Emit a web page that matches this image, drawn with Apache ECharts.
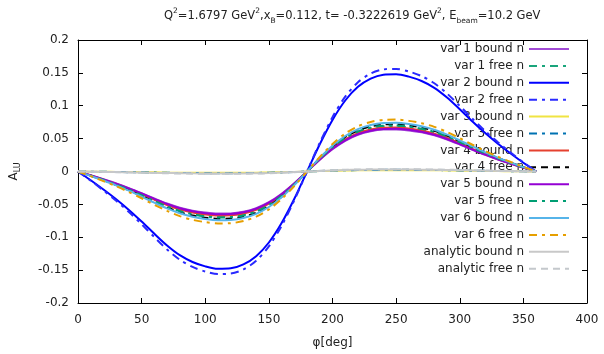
<!DOCTYPE html>
<html>
<head>
<meta charset="utf-8">
<script src="https://cdn.jsdelivr.net/npm/echarts@6/dist/echarts.min.js"></script>
<style>html,body{margin:0;padding:0;background:#fff;}#c{width:604px;height:354px;}</style>
</head>
<body>
<div id="c"></div>
<script>
const PHI = [0,10,20,30,40,50,60,70,80,90,100,110,120,130,140,150,160,170,180,190,200,210,220,230,240,250,260,270,280,290,300,310,320,330,340,350,360];
const X_TICKS = [0,50,100,150,200,250,300,350,400];
const Y_TICKS = [-0.2,-0.15,-0.1,-0.05,0,0.05,0.1,0.15,0.2];

const var1Bound = [0,-0.0058,-0.0118,-0.0182,-0.0253,-0.0330,-0.0410,-0.0486,-0.0550,-0.0595,-0.0624,-0.0640,-0.0637,-0.0611,-0.0557,-0.0467,-0.0339,-0.0179,0,0.0179,0.0339,0.0467,0.0557,0.0611,0.0637,0.0640,0.0624,0.0595,0.0550,0.0486,0.0410,0.0330,0.0253,0.0182,0.0118,0.0058,0];
const var1Free = [0,-0.0062,-0.0128,-0.0197,-0.0273,-0.0355,-0.0442,-0.0524,-0.0593,-0.0642,-0.0673,-0.0690,-0.0687,-0.0659,-0.0600,-0.0504,-0.0366,-0.0193,0,0.0193,0.0366,0.0504,0.0600,0.0659,0.0687,0.0690,0.0673,0.0642,0.0593,0.0524,0.0442,0.0355,0.0273,0.0197,0.0128,0.0062,0];
const var2Bound = [0,-0.0133,-0.0274,-0.0422,-0.0585,-0.0762,-0.0947,-0.1125,-0.1273,-0.1376,-0.1443,-0.1480,-0.1473,-0.1413,-0.1288,-0.1080,-0.0784,-0.0414,0,0.0414,0.0784,0.1080,0.1288,0.1413,0.1473,0.1480,0.1443,0.1376,0.1273,0.1125,0.0947,0.0762,0.0585,0.0422,0.0274,0.0133,0];
const var2Free = [0,-0.0140,-0.0289,-0.0445,-0.0616,-0.0803,-0.0998,-0.1186,-0.1342,-0.1451,-0.1521,-0.1560,-0.1552,-0.1490,-0.1357,-0.1139,-0.0827,-0.0437,0,0.0437,0.0827,0.1139,0.1357,0.1490,0.1552,0.1560,0.1521,0.1451,0.1342,0.1186,0.0998,0.0803,0.0616,0.0445,0.0289,0.0140,0];
const var3Bound = [0,-0.0002,-0.0004,-0.0006,-0.0008,-0.0011,-0.0013,-0.0016,-0.0018,-0.0019,-0.0020,-0.0020,-0.0020,-0.0019,-0.0018,-0.0015,-0.0011,-0.0006,0,0.0006,0.0011,0.0015,0.0018,0.0019,0.0020,0.0020,0.0020,0.0019,0.0018,0.0016,0.0013,0.0011,0.0008,0.0006,0.0004,0.0002,0];
const var3Free = [0,-0.0002,-0.0005,-0.0007,-0.0010,-0.0013,-0.0017,-0.0020,-0.0022,-0.0024,-0.0025,-0.0025,-0.0025,-0.0024,-0.0022,-0.0019,-0.0014,-0.0007,0,0.0007,0.0014,0.0019,0.0022,0.0024,0.0025,0.0025,0.0025,0.0024,0.0022,0.0020,0.0017,0.0013,0.0010,0.0007,0.0005,0.0002,0];
const var4Bound = [0,-0.0060,-0.0124,-0.0191,-0.0265,-0.0345,-0.0429,-0.0509,-0.0576,-0.0623,-0.0653,-0.0670,-0.0667,-0.0640,-0.0583,-0.0489,-0.0355,-0.0188,0,0.0188,0.0355,0.0489,0.0583,0.0640,0.0667,0.0670,0.0653,0.0623,0.0576,0.0509,0.0429,0.0345,0.0265,0.0191,0.0124,0.0060,0];
const var4Free = [0,-0.0065,-0.0133,-0.0205,-0.0284,-0.0371,-0.0461,-0.0547,-0.0619,-0.0670,-0.0702,-0.0720,-0.0716,-0.0688,-0.0626,-0.0526,-0.0382,-0.0202,0,0.0202,0.0382,0.0526,0.0626,0.0688,0.0716,0.0720,0.0702,0.0670,0.0619,0.0547,0.0461,0.0371,0.0284,0.0205,0.0133,0.0065,0];
const var5Bound = [0,-0.0059,-0.0120,-0.0185,-0.0257,-0.0335,-0.0416,-0.0494,-0.0559,-0.0605,-0.0634,-0.0650,-0.0647,-0.0621,-0.0566,-0.0475,-0.0345,-0.0182,0,0.0182,0.0345,0.0475,0.0566,0.0621,0.0647,0.0650,0.0634,0.0605,0.0559,0.0494,0.0416,0.0335,0.0257,0.0185,0.0120,0.0059,0];
const var5Free = [0,-0.0063,-0.0130,-0.0200,-0.0277,-0.0361,-0.0448,-0.0532,-0.0602,-0.0651,-0.0683,-0.0700,-0.0697,-0.0669,-0.0609,-0.0511,-0.0371,-0.0196,0,0.0196,0.0371,0.0511,0.0609,0.0669,0.0697,0.0700,0.0683,0.0651,0.0602,0.0532,0.0448,0.0361,0.0277,0.0200,0.0130,0.0063,0];
const var6Bound = [0,-0.0067,-0.0137,-0.0211,-0.0292,-0.0381,-0.0474,-0.0562,-0.0636,-0.0688,-0.0722,-0.0740,-0.0736,-0.0707,-0.0644,-0.0540,-0.0392,-0.0207,0,0.0207,0.0392,0.0540,0.0644,0.0707,0.0736,0.0740,0.0722,0.0688,0.0636,0.0562,0.0474,0.0381,0.0292,0.0211,0.0137,0.0067,0];
const var6Free = [0,-0.0071,-0.0146,-0.0225,-0.0312,-0.0407,-0.0506,-0.0600,-0.0679,-0.0735,-0.0770,-0.0790,-0.0786,-0.0754,-0.0687,-0.0577,-0.0419,-0.0221,0,0.0221,0.0419,0.0577,0.0687,0.0754,0.0786,0.0790,0.0770,0.0735,0.0679,0.0600,0.0506,0.0407,0.0312,0.0225,0.0146,0.0071,0];
const analyticBound = [0,-0.0003,-0.0006,-0.0009,-0.0012,-0.0016,-0.0020,-0.0023,-0.0026,-0.0028,-0.0029,-0.0030,-0.0030,-0.0029,-0.0027,-0.0023,-0.0016,-0.0008,0,0.0008,0.0016,0.0023,0.0027,0.0029,0.0030,0.0030,0.0029,0.0028,0.0026,0.0023,0.0020,0.0016,0.0012,0.0009,0.0006,0.0003,0];
const analyticFree = [0,-0.0003,-0.0006,-0.0010,-0.0014,-0.0019,-0.0023,-0.0027,-0.0031,-0.0033,-0.0034,-0.0035,-0.0035,-0.0034,-0.0031,-0.0027,-0.0019,-0.0010,0,0.0010,0.0019,0.0027,0.0031,0.0034,0.0035,0.0035,0.0034,0.0033,0.0031,0.0027,0.0023,0.0019,0.0014,0.0010,0.0006,0.0003,0];

const SERIES_NAMES = ['var 1 bound n','var 1 free n','var 2 bound n','var 2 free n','var 3 bound n','var 3 free n','var 4 bound n','var 4 free n','var 5 bound n','var 5 free n','var 6 bound n','var 6 free n','analytic bound n','analytic free n'];
const SERIES_VALUES = [var1Bound,var1Free,var2Bound,var2Free,var3Bound,var3Free,var4Bound,var4Free,var5Bound,var5Free,var6Bound,var6Free,analyticBound,analyticFree];

const FONT = 'DejaVu Sans';
const DASHDOT = [8,5,3,5];
const DASH = [7,5];
const STYLES = [
  {color:'#a24bd6', type:'solid'},
  {color:'#1aa57c', type:DASHDOT},
  {color:'#0000ff', type:'solid'},
  {color:'#2a2aff', type:DASHDOT},
  {color:'#f0e442', type:'solid'},
  {color:'#0072b2', type:DASHDOT},
  {color:'#e5412f', type:'solid'},
  {color:'#000000', type:DASH},
  {color:'#9400d3', type:'solid'},
  {color:'#009e73', type:DASHDOT},
  {color:'#56b4e9', type:'solid'},
  {color:'#e69f00', type:DASHDOT},
  {color:'#c8c8c8', type:'solid'},
  {color:'#c4c8cc', type:DASH}
];

const series = SERIES_NAMES.map((name, i) => ({
  name: name,
  type: 'line',
  xAxisIndex: 0,
  yAxisIndex: 0,
  data: PHI.map((p, j) => [p, SERIES_VALUES[i][j]]),
  showSymbol: false,
  symbol: 'none',
  smooth: 0.3,
  color: STYLES[i].color,
  lineStyle: {color: STYLES[i].color, width: 2, type: STYLES[i].type},
  z: 2 + i
}));

const axisCommon = {
  type: 'value',
  axisLine: {show: true, onZero: false, lineStyle: {color: '#000', width: 1}},
  axisTick: {show: true, inside: true, length: 5, lineStyle: {color: '#000'}},
  splitLine: {show: false},
  axisLabel: {color: '#222', fontSize: 12, fontFamily: FONT}
};

const chart = echarts.init(document.getElementById('c'), null, {renderer: 'canvas'});
chart.setOption({
  animation: false,
  backgroundColor: '#fff',
  title: {
    text: '{n|Q}{sup|2}{n|=1.6797 GeV}{sup|2}{n|,x}{sub|B}{n|=0.112, t= -0.3222619 GeV}{sup|2}{n|, E}{sub|beam}{n|=10.2 GeV}',
    left: 159, top: 2,
    textStyle: {
      fontFamily: FONT, fontWeight: 'normal', fontSize: 11.5, color: '#222',
      rich: {
        n: {fontFamily: FONT, fontSize: 11.5, color: '#222', lineHeight: 18, verticalAlign: 'middle'},
        sup: {fontFamily: FONT, fontSize: 7.5, color: '#222', lineHeight: 18, verticalAlign: 'top'},
        sub: {fontFamily: FONT, fontSize: 7.5, color: '#222', lineHeight: 18, verticalAlign: 'bottom'}
      }
    }
  },
  grid: {left: 77, right: 17, top: 40, bottom: 47, containLabel: false},
  legend: {
    show: true,
    orient: 'vertical',
    right: 29, top: 37,
    align: 'right',
    itemWidth: 40, itemHeight: 14, itemGap: 2.9,
    selectedMode: false,
    itemStyle: {color: 'rgba(0,0,0,0)', borderWidth: 0, opacity: 0},
    textStyle: {fontFamily: FONT, fontSize: 12, color: '#222', lineHeight: 14},
    data: SERIES_NAMES
  },
  xAxis: [
    Object.assign({}, axisCommon, {
      position: 'bottom', min: X_TICKS[0], max: X_TICKS[X_TICKS.length-1], interval: 50,
      name: 'φ[deg]', nameLocation: 'middle', nameGap: 34,
      nameTextStyle: {fontFamily: FONT, fontSize: 12, color: '#222'},
      axisLabel: Object.assign({}, axisCommon.axisLabel, {margin: 11})
    }),
    Object.assign({}, axisCommon, {
      position: 'top', min: X_TICKS[0], max: X_TICKS[X_TICKS.length-1], interval: 50,
      axisLabel: {show: false}
    })
  ],
  yAxis: [
    Object.assign({}, axisCommon, {
      position: 'left', min: Y_TICKS[0], max: Y_TICKS[Y_TICKS.length-1], interval: 0.05,
      name: '{n|A}{sub|LU}', nameLocation: 'middle', nameGap: 56, nameRotate: 90,
      nameTextStyle: {
        fontFamily: FONT, fontSize: 12, color: '#222',
        rich: {
          n: {fontFamily: FONT, fontSize: 12, color: '#222', lineHeight: 16, verticalAlign: 'middle'},
          sub: {fontFamily: FONT, fontSize: 8, color: '#222', lineHeight: 16, verticalAlign: 'bottom'}
        }
      },
      axisLabel: Object.assign({}, axisCommon.axisLabel, {margin: 9})
    }),
    Object.assign({}, axisCommon, {
      position: 'right', min: Y_TICKS[0], max: Y_TICKS[Y_TICKS.length-1], interval: 0.05,
      axisLabel: {show: false}
    })
  ],
  series: series
});
</script>
</body>
</html>
